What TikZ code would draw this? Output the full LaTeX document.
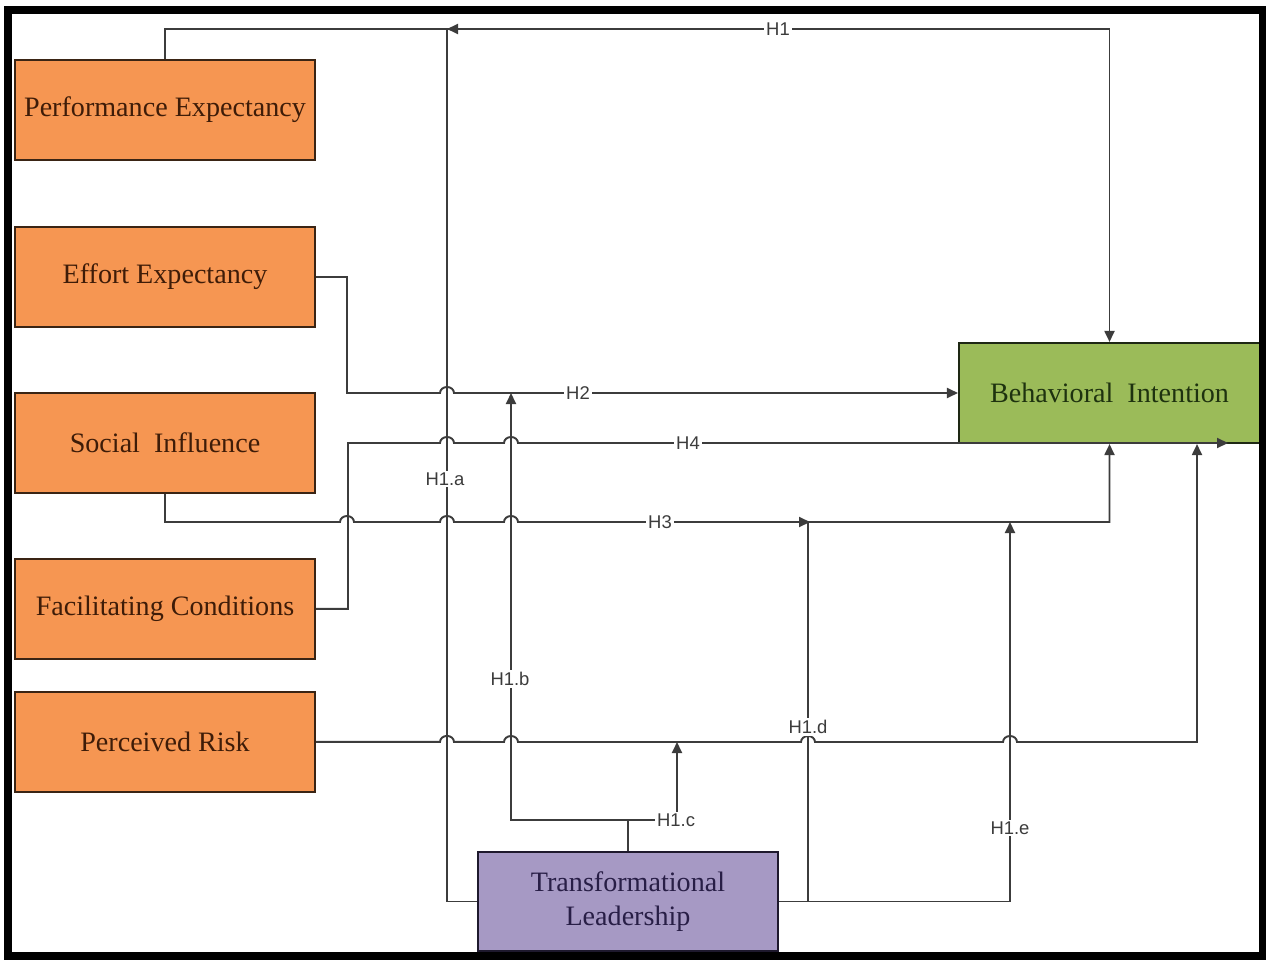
\documentclass[tikz,border=0pt]{standalone}
\usepackage{fontspec}
\setmainfont{Liberation Serif}
\newfontfamily\labelfont{Liberation Sans}
\usetikzlibrary{arrows.meta, positioning}

\definecolor{peorange}{RGB}{246,150,82}
\definecolor{pedraw}{RGB}{58,36,20}
\definecolor{petext}{RGB}{62,28,8}
\definecolor{bigreen}{RGB}{155,187,89}
\definecolor{bidraw}{RGB}{30,40,20}
\definecolor{bitext}{RGB}{30,50,15}
\definecolor{tlpurple}{RGB}{166,153,196}
\definecolor{tldraw}{RGB}{30,25,45}
\definecolor{tltext}{RGB}{40,30,70}
\definecolor{linegray}{RGB}{60,60,60}

% line hop over a crossing vertical
\newcommand{\jump}{arc[start angle=180, end angle=0, x radius=0.14cm, y radius=0.12cm]}

\begin{document}
\begin{tikzpicture}[
      x=0.02cm, y=-0.02cm,
      node distance=1.278cm,
      box/.style={
          draw,
          line width=1.2pt,
          minimum width=6cm,
          minimum height=2cm,
          align=center,
          inner sep=2pt,
          font=\fontsize{16}{19}\selectfont
      },
      factor/.style={box, fill=peorange, draw=pedraw, text=petext},
      conn/.style={draw=linegray, line width=1.1pt},
      arrow/.style={conn, -{Triangle[length=0.22cm, width=0.2cm]}},
      hlab/.style={font=\labelfont\fontsize{10.5}{12}\selectfont,
                   text=linegray, fill=white, inner sep=1pt}
  ]

  \useasboundingbox (0,0) rectangle (1266,959);

  % ══════════════════════════════
  % FACTEURS (gauche)
  % ══════════════════════════════
  \node[factor] (pe) at (165,110) {Performance Expectancy};

  \node[factor, below=1.298cm of pe] (ee) {Effort Expectancy};

  \node[factor, below=of ee] (si) {Social~~Influence};

  \node[factor, below=of si] (fc) {Facilitating Conditions};

  \node[factor, below=0.618cm of fc] (pr) {Perceived Risk};

  % ══════════════════════════════
  % INTENTION + LEADERSHIP
  % ══════════════════════════════
  \node[box, fill=bigreen, draw=bidraw, text=bitext, minimum width=6.02cm]
      (bi) at (1109.5,393) {Behavioral~~Intention};

  \node[box, fill=tlpurple, draw=tldraw, text=tltext, minimum height=1.98cm]
      (tl) at (628,901.5) {Transformational\\Leadership};

  % ══════════════════════════════
  % FLÈCHES — hypothèses directes
  % ══════════════════════════════
  \draw[arrow]
      (pe.north) |- (bi.north |- 0,29) -- (bi.north);

  \draw[arrow]
      (ee.east) -- ++(31,0) |- (440,393) \jump -- (bi.west);

  \coordinate (h4end) at (1228,443);
  \draw[arrow]
      (fc.east) -- ++(32,0) |- (440,443) \jump -- (504,443) \jump -- (h4end);

  \draw[arrow]
      (si.south) |- (340,522) \jump -- (440,522) \jump -- (504,522) \jump
      -| (bi.south);

  \draw[arrow]
      (pr.east) -- (pr.east -| 440,0) \jump -- (504,742) \jump -- (801,742) \jump
      -- (1003,742) \jump -| (bi.south -| 1197,0);

  % ══════════════════════════════
  % FLÈCHES — modération (Leadership)
  % ══════════════════════════════
  \coordinate (h1a) at (447,29);
  \coordinate (h1b) at (511,393);
  \coordinate (h1c) at (677,742);
  \coordinate (h1d) at (808,522);
  \coordinate (h1e) at (1010,522);

  \draw[conn] (tl.west) -| (h1a);
  \draw[arrow] ([xshift=0.24cm]h1a) -- (h1a);

  \draw[arrow] (tl.north) -- ++(0,-31) -| (h1b);

  \draw[arrow] (tl.north) -- ++(0,-31) -| (h1c);

  \draw[conn] (tl.east) -| (h1d);
  \draw[arrow] ([xshift=-0.24cm]h1d) -- ([xshift=0.04cm]h1d);

  \draw[arrow] (tl.east) -| (h1e);

  % ══════════════════════════════
  % ÉTIQUETTES
  % ══════════════════════════════
  \node[hlab] (lh1)  at (778,29)  {H1};
  \node[hlab] (lh2)  at (578,393) {H2};
  \node[hlab] (lh4)  at (688,443) {H4};
  \node[hlab] (lh3)  at (660,522) {H3};
  \node[hlab] (lh1a) at (445,479) {H1.a};
  \node[hlab] (lh1b) at (510,679) {H1.b};
  \node[hlab] (lh1c) at (676,820) {H1.c};
  \node[hlab] (lh1d) at (808,727) {H1.d};
  \node[hlab] (lh1e) at (1010,828) {H1.e};

  % cadre
  \draw[line width=0.16cm] (8,10) rectangle (1263,956);

\end{tikzpicture}
\end{document}
